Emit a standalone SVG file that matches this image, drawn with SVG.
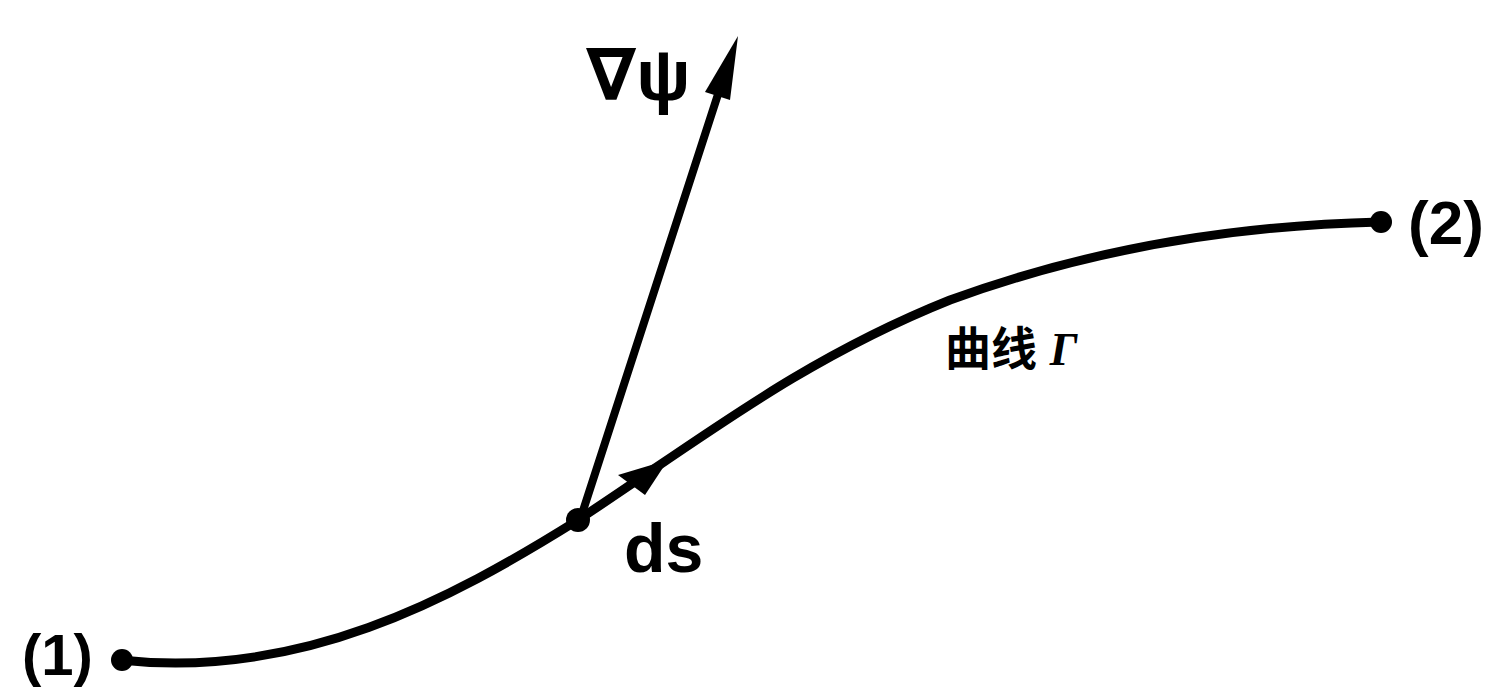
<svg xmlns="http://www.w3.org/2000/svg" width="1497" height="694" viewBox="0 0 1497 694">
<style>
.t{font-family:"Liberation Sans","DejaVu Sans","Noto Sans CJK SC",sans-serif;font-weight:bold;fill:#000}
.ln{fill:none;stroke:#000;stroke-linecap:round}
</style>
<rect width="1497" height="694" fill="#fff"/>
<g id="connectors">
<path id="curve" class="ln" stroke-width="9" d="M120,660 C300,680 450,600 578,520 C700,440 800,360 950,300 C1100,245 1250,225 1380,222"/>
<line id="grad" class="ln" stroke-width="8" x1="580" y1="520" x2="722" y2="82"/>
<polygon id="grad-head" points="738,36 730,100 705,92" fill="#000"/>
<polygon id="ds-head" points="668,460 645,495 618,475" fill="#000"/>
</g>
<g id="p1"><circle cx="122" cy="660" r="11" fill="#000"/><text class="t" x="22" y="675" font-size="58">(1)</text></g>
<g id="p2"><circle cx="1381" cy="222" r="11" fill="#000"/><text class="t" x="1408" y="244" font-size="62">(2)</text></g>
<g id="pt"><circle cx="578" cy="520" r="12" fill="#000"/></g>
<g id="lbl-grad"><text class="t" x="586" y="100" font-size="72">∇ψ</text></g>
<g id="lbl-ds"><text class="t" x="624" y="572" font-size="68">ds</text></g>
<g id="lbl-curve"><text class="t" x="945" y="365" font-size="46">曲线 <tspan font-style="italic" font-family="Liberation Serif,serif">Γ</tspan></text></g>
</svg>
